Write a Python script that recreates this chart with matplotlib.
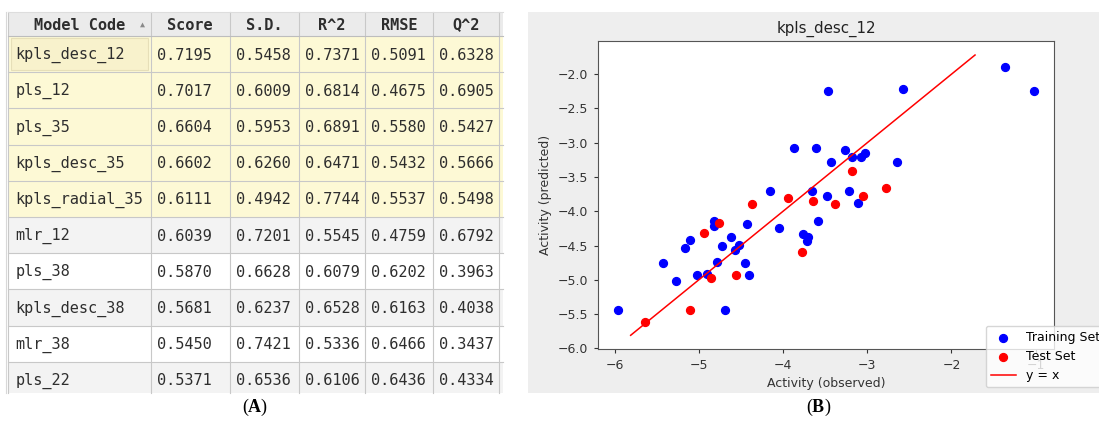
import numpy as np
import matplotlib.pyplot as plt
from matplotlib.patches import Rectangle

plt.rcParams['mathtext.fontset'] = 'custom'
plt.rcParams['mathtext.bf'] = 'Liberation Serif:bold'
plt.rcParams['mathtext.rm'] = 'Liberation Serif'

# ---- (A) model table ----
columns = ['Model Code', 'Score', 'S.D.', 'R^2', 'RMSE', 'Q^2']
model_codes = ['kpls_desc_12', 'pls_12', 'pls_35', 'kpls_desc_35', 'kpls_radial_35',
               'mlr_12', 'pls_38', 'kpls_desc_38', 'mlr_38', 'pls_22']
score = [0.7195, 0.7017, 0.6604, 0.6602, 0.6111, 0.6039, 0.5870, 0.5681, 0.5450, 0.5371]
sd = [0.5458, 0.6009, 0.5953, 0.6260, 0.4942, 0.7201, 0.6628, 0.6237, 0.7421, 0.6536]
r2 = [0.7371, 0.6814, 0.6891, 0.6471, 0.7744, 0.5545, 0.6079, 0.6528, 0.5336, 0.6106]
rmse = [0.5091, 0.4675, 0.5580, 0.5432, 0.5537, 0.4759, 0.6202, 0.6163, 0.6466, 0.6436]
q2 = [0.6328, 0.6905, 0.5427, 0.5666, 0.5498, 0.6792, 0.3963, 0.4038, 0.3437, 0.4334]
n_highlight = 5

# ---- (B) observed vs predicted activity ----
train_obs = [-5.955, -5.42, -5.27, -5.17, -5.10, -5.02, -4.90, -4.82, -4.82, -4.78,
             -4.72, -4.62, -4.57, -4.52, -4.45, -4.40, -4.43, -4.69, -4.15, -4.05,
             -3.875, -3.76, -3.70, -3.71, -3.66, -3.61, -3.59, -3.48, -3.43, -3.265,
             -3.22, -3.18, -3.08, -3.03, -3.11, -2.65, -2.57, -3.47, -1.36, -1.025]
train_pred = [-5.435, -4.755, -5.02, -4.54, -4.42, -4.93, -4.92, -4.135, -4.22, -4.74,
              -4.50, -4.38, -4.57, -4.49, -4.75, -4.93, -4.19, -5.435, -3.71, -4.25,
              -3.08, -4.33, -4.37, -4.43, -3.70, -3.08, -4.135, -3.78, -3.28, -3.10,
              -3.71, -3.21, -3.21, -3.145, -3.88, -3.28, -2.21, -2.25, -1.90, -2.25]
test_obs = [-5.64, -5.11, -4.85, -4.94, -4.76, -4.56, -4.37, -3.94, -3.77, -3.645,
            -3.38, -3.18, -3.05, -2.78]
test_pred = [-5.62, -5.435, -4.98, -4.32, -4.165, -4.93, -3.90, -3.80, -4.59, -3.85,
             -3.90, -3.41, -3.78, -3.655]
line_xy = [-5.81, -1.72]

W, H = 1099, 423
fig = plt.figure(figsize=(W / 100, H / 100), dpi=100)

# background canvas in pixel units
bg = fig.add_axes([0, 0, 1, 1])
bg.set_xlim(0, W)
bg.set_ylim(H, 0)
bg.axis('off')

col_edges = [8, 150.7, 229.7, 298.7, 365, 432.7, 499]
head_top, head_bot, row_h, tab_bot = 12, 36, 36.2, 393
grid_c = '#c8c8c8'
txt_c = '#2e2e2e'
mono = ['DejaVu Sans Mono', 'DejaVu Sans']

# header
bg.add_patch(Rectangle((col_edges[0], head_top), col_edges[-1] - col_edges[0] + 4,
                       head_bot - head_top, facecolor='#ebebeb', edgecolor='none'))
for j, name in enumerate(columns):
    cx = (col_edges[j] + col_edges[j + 1]) / 2
    bg.text(cx, (head_top + head_bot) / 2 + 1, name, ha='center', va='center',
            family=mono, weight='bold', size=11, color='#2e2e2e')
bg.text(142, (head_top + head_bot) / 2, '\u25b2', ha='center', va='center',
        family=mono, size=6, color='#8a8a8a')

# body rows
table_cols = [score, sd, r2, rmse, q2]
for i, code in enumerate(model_codes):
    top = head_bot + i * row_h
    h = min(row_h, tab_bot - top)
    if i < n_highlight:
        fc = '#fdf9d5'
    elif (i - n_highlight) % 2 == 0:
        fc = '#f3f3f3'
    else:
        fc = '#ffffff'
    bg.add_patch(Rectangle((col_edges[0], top), col_edges[-1] - col_edges[0] + 4, h,
                           facecolor=fc, edgecolor='none'))
    cy = top + row_h / 2 + 1
    bg.text(col_edges[0] + 7.5, cy, code, ha='left', va='center',
            family=mono, size=11, color=txt_c, zorder=3)
    for j, vals in enumerate(table_cols):
        bg.text(col_edges[j + 1] + 6, cy, '%.4f' % vals[i], ha='left', va='center',
                family=mono, size=11, color=txt_c)

# focus highlight around first cell
bg.add_patch(Rectangle((col_edges[0] + 3, head_bot + 2), col_edges[1] - col_edges[0] - 6,
                       row_h - 4, facecolor='#f8f2cc', edgecolor='#e6dfb8', lw=0.8))

# grid lines
for x in col_edges:
    bg.plot([x, x], [head_top, tab_bot], color=grid_c, lw=0.8)
bg.plot([col_edges[0] - 2, col_edges[0] - 2], [head_top, tab_bot], color='#d8d8d8', lw=0.8)
bg.plot([col_edges[0], col_edges[-1] + 4], [head_top, head_top], color='#dddddd', lw=0.8)
bg.plot([col_edges[0], col_edges[-1] + 4], [head_bot, head_bot], color='#bdbdbd', lw=0.8)
for i in range(1, len(model_codes)):
    y = head_bot + i * row_h
    bg.plot([col_edges[0], col_edges[-1] + 4], [y, y], color=grid_c, lw=0.8)

# panel B grey background
bg.add_patch(Rectangle((528, 12), W - 528, 381, facecolor='#eeeeee', edgecolor='none'))

bg.text(255, 407, r'($\mathbf{A}$)', ha='center', va='center',
        family='Liberation Serif', size=13)
bg.text(819, 407, r'($\mathbf{B}$)', ha='center', va='center',
        family='Liberation Serif', size=13)

# scatter plot
ax = fig.add_axes([597.7 / W, 1 - 349.3 / H, (1054.3 - 597.7) / W, (349.3 - 41) / H])
ax.scatter(train_obs, train_pred, color='blue', s=32, label='Training Set')
ax.scatter(test_obs, test_pred, color='red', s=32, label='Test Set')
ax.plot(line_xy, line_xy, color='red', lw=1.1, label='y = x')
ax.set_title('kpls_desc_12', fontsize=10.8, color='#222222')
ax.set_xlabel('Activity (observed)', fontsize=9, color='#333333')
ax.set_ylabel('Activity (predicted)', fontsize=9, color='#333333')
ax.tick_params(labelsize=9, colors='#333333', length=3.2)
for sp in ax.spines.values():
    sp.set_color('#555555')
ax.legend(loc='upper left', bbox_to_anchor=(0.85, 0.076), borderaxespad=0, fontsize=9)

plt.savefig('out.png', dpi=100)
